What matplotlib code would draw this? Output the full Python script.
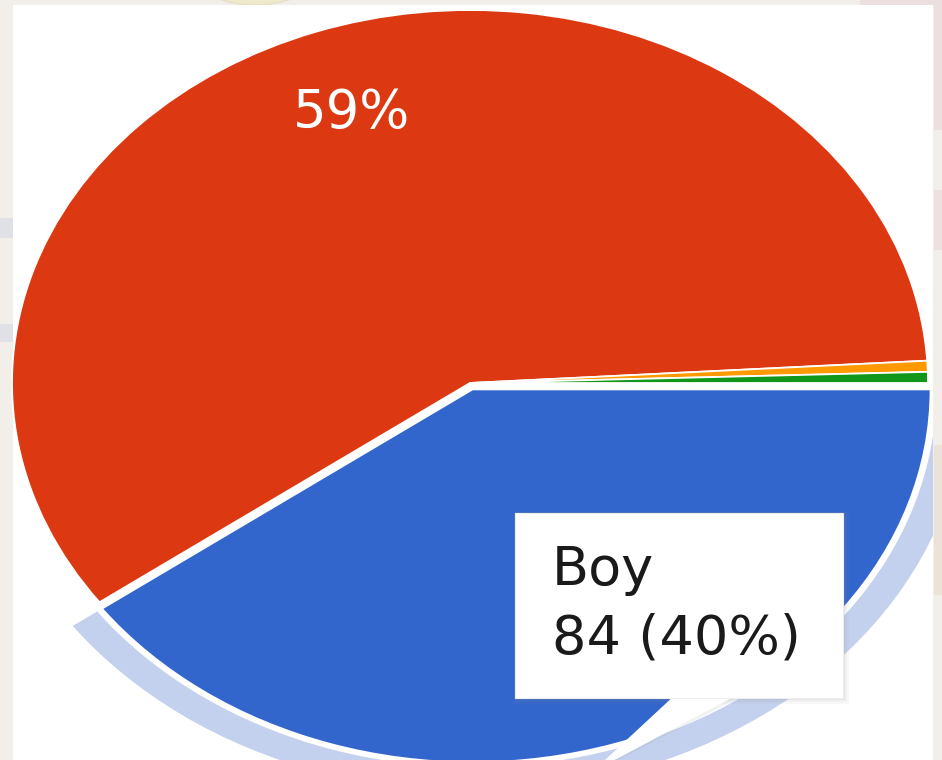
import matplotlib
matplotlib.use("Agg")
import matplotlib.pyplot as plt
import numpy as np
from matplotlib.patches import Rectangle, Wedge, Polygon, Ellipse

# Survey responses
categories = ["Boy", "Girl", "Other", "Prefer not to say"]
counts = [84, 124, 1, 1]
colors = ["#3366cc", "#dc3912", "#ff9900", "#109618"]
hovered = 0          # slice showing the tooltip
labelled = 1         # slice with an in-slice percentage label

W, H = 942, 760
fig = plt.figure(figsize=(W / 100, H / 100), dpi=100, facecolor="#f2efeb")

# ---- page background (pixel coordinates, origin top-left) ----
bg = fig.add_axes([0, 0, 1, 1])
bg.set_xlim(0, W)
bg.set_ylim(H, 0)
bg.axis("off")
bg.add_patch(Ellipse((255, -20), 110, 50, facecolor="#efe9cc", edgecolor="#e6dfc6", lw=1))
bg.add_patch(Rectangle((0, 218), 13, 20, facecolor="#e0e1e6", lw=0))
bg.add_patch(Rectangle((0, 324), 13, 18, facecolor="#e0e1e6", lw=0))
bg.add_patch(Rectangle((934, 0), 8, 130, facecolor="#ecdfe0", lw=0))
bg.add_patch(Rectangle((860, 0), 82, 5, facecolor="#ecdfe0", lw=0))
bg.add_patch(Rectangle((934, 190), 8, 60, facecolor="#ede1e0", lw=0))
bg.add_patch(Rectangle((934, 445), 8, 150, facecolor="#ebe2d8", lw=0))

# white chart panel
px0, px1, py0, py1 = 13, 933, 5, 760
bg.add_patch(Rectangle((px0, py0), px1 - px0, py1 - py0, facecolor="white", lw=0))

# ---- pie (stretched into an ellipse) ----
cx, cy, rx, ry = 470, 383, 458, 373
ax = fig.add_axes([px0 / W, (H - py1) / H, (px1 - px0) / W, (py1 - py0) / H])
total = sum(counts)
explode = [0.018 if i == hovered else 0 for i in range(len(counts))]
wedges, _ = ax.pie(counts, colors=colors, startangle=0, counterclock=False,
                   explode=explode, radius=1,
                   wedgeprops=dict(edgecolor="white", linewidth=1.3))
ax.set_aspect("auto")
ax.set_xlim((px0 - cx) / rx, (px1 - cx) / rx)
ax.set_ylim((cy - py1) / ry, (cy - py0) / ry)

# hover halo around the highlighted slice
hw = wedges[hovered]
ax.add_patch(Wedge(hw.center, 1.079, hw.theta1, hw.theta2, width=0.066,
                   facecolor="#c3d1ef", edgecolor="none"))

# percentage label inside the largest slice
lw_ = wedges[labelled]
mid = np.deg2rad((lw_.theta1 + lw_.theta2) / 2)
pct = round(100 * counts[labelled] / total)
ax.text(0.77 * np.cos(mid), 0.77 * np.sin(mid), f"{pct}%", color="white",
        fontsize=38, ha="center", va="center", family="DejaVu Sans")

# ---- tooltip ----
top = fig.add_axes([0, 0, 1, 1])
top.set_xlim(0, W)
top.set_ylim(H, 0)
top.axis("off")
top.patch.set_alpha(0)

bx0, by0, bx1, by1 = 515, 513, 843, 698
for d, a in [(7, 0.05), (5, 0.07), (3, 0.10)]:
    top.add_patch(Rectangle((bx0 - 1, by0 - 1), bx1 - bx0 + d, by1 - by0 + d,
                            facecolor="#888888", alpha=a, lw=0))
top.add_patch(Polygon([(672, 697), (740, 697), (588, 776)], closed=True,
                      facecolor="#999999", alpha=0.12, lw=0))
top.add_patch(Polygon([(675, 695), (737, 695), (592, 772)], closed=True,
                      facecolor="white", lw=0))
top.add_patch(Rectangle((bx0, by0), bx1 - bx0, by1 - by0, facecolor="white",
                        edgecolor="#eeeeee", lw=0.8))

pct_h = round(100 * counts[hovered] / total)
top.text(552, 585, categories[hovered], fontsize=39, color="#1a1a1a",
         va="baseline", ha="left", family="DejaVu Sans")
top.text(552, 653, f"{counts[hovered]} ({pct_h}%)", fontsize=39, color="#1a1a1a",
         va="baseline", ha="left", family="DejaVu Sans")

fig.savefig("out.png", dpi=100, facecolor=fig.get_facecolor())
